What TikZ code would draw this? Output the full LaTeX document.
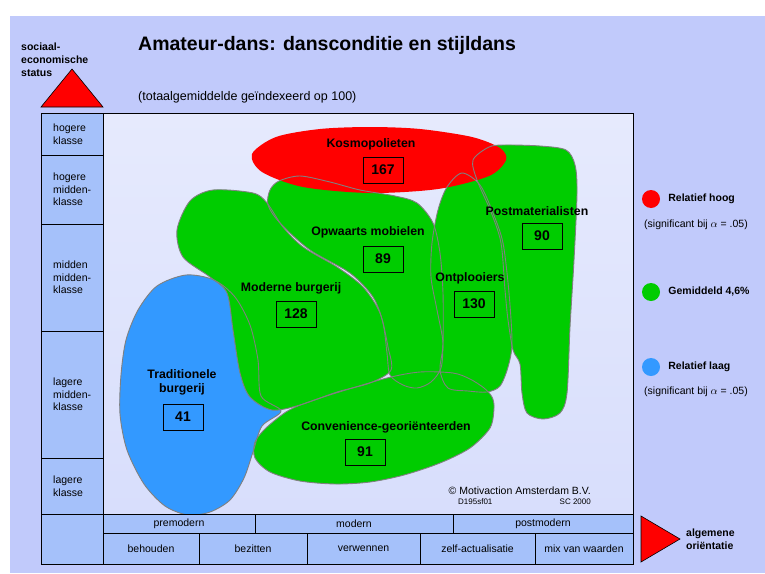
\documentclass[tikz,border=0pt]{standalone}
\usepackage{fontspec}
\setmainfont{Liberation Sans}
\usetikzlibrary{positioning}

\definecolor{pagebg}{RGB}{193,202,251}
\definecolor{cellblue}{RGB}{165,193,250}
\definecolor{charttop}{RGB}{230,234,253}
\definecolor{chartmid}{RGB}{176,191,249}
\definecolor{chartbot}{RGB}{216,222,252}
\definecolor{segred}{RGB}{255,0,0}
\definecolor{seggreen}{RGB}{0,204,0}
\definecolor{segblue}{RGB}{51,153,255}
\definecolor{rimgray}{RGB}{128,128,128}

% segment outlines (pixel grid, y downwards)
\def\pathTrad{plot[smooth cycle] coordinates {(186,275) (214,280) (235,297) (250,325) (258,360) (261,396) (281,411) (262,426) (253,452) (244,478) (230,500) (210,512) (188,515) (165,506) (144,484) (127,450) (120,414) (121,375) (126,340) (138,310) (157,286)}}
\def\pathModern{plot[smooth cycle] coordinates {(177,230) (190,201) (213,190) (253,193) (267,203) (283,227) (303,247) (337,267) (363,287) (380,313) (388,347) (391,370) (370,383) (337,392) (300,405) (272,410) (250,397) (240,373) (233,330) (227,293) (210,277) (183,257)}}
\def\pathUpward{plot[smooth cycle] coordinates {(279,181) (300,176) (330,182) (360,190) (395,196) (417,203) (433,223) (440,253) (443,293) (443,343) (441,368) (431,382) (417,388) (403,385) (390,375) (387,353) (383,323) (373,297) (350,273) (310,250) (280,223) (268,205) (270,190)}}
\def\pathUnfold{plot[smooth cycle] coordinates {(462,173) (480,185) (493,213) (503,243) (509,293) (512,343) (508,367) (500,386) (487,392) (468,391) (448,388) (440,370) (443,343) (437,310) (431,277) (432,243) (438,210) (447,187)}}
\def\pathPostmat{plot[smooth cycle] coordinates {(473,160) (489,147) (505,145) (540,146) (566,150) (575,165) (577,193) (574,260) (570,327) (567,393) (560,413) (543,419) (527,413) (522,393) (520,364) (513,350) (508,320) (505,290) (501,243) (491,212) (477,180)}}
\def\pathConven{plot[smooth cycle] coordinates {(286,412) (303,404) (336,393) (387,378) (420,372) (453,373) (470,379) (484,388) (492,397) (494,408) (490,428) (470,448) (440,463) (404,475) (370,482) (336,484) (300,481) (270,472) (255,458) (255,442) (266,428)}}
\def\pathCosmo{plot[smooth cycle] coordinates {(252,154) (276,137) (320,129) (370,127) (420,129) (472,137) (500,148) (506,160) (489,176) (438,189) (370,193) (303,187) (262,172)}}

\begin{document}
\begin{tikzpicture}[
  x=1pt,y=-1pt,
  font=\fontsize{10.5}{12.5}\selectfont,
  cell/.style={draw,fill=cellblue,line width=1pt},
  rowtext/.style={anchor=west,align=left,inner sep=0pt},
  axistext/.style={font=\fontsize{10.5}{13}\selectfont\bfseries,align=left,inner sep=0pt},
  seglabel/.style={font=\fontsize{12.3}{14}\selectfont\bfseries,align=center,inner sep=0pt},
  score/.style={draw,line width=1pt,minimum width=40pt,minimum height=26pt,inner sep=0pt,font=\fontsize{14}{16}\selectfont\bfseries},
  blob/.style={draw=rimgray,line width=0.9pt},
  dot/.style={circle,minimum size=18pt,inner sep=0pt},
  legtext/.style={anchor=west,inner sep=0pt,font=\fontsize{10.5}{12.5}\selectfont\bfseries},
  signote/.style={anchor=west,inner sep=0pt}
]
\useasboundingbox (0,0) rectangle (765,573);
\fill[white] (0,0) rectangle (765,573);
\fill[pagebg] (10,16) rectangle (765,573);

% chart field
\shade[top color=charttop,middle color=chartmid,bottom color=chartbot] (103,113) rectangle (633,514);

% segments: fills first, outlines on top
\fill[segblue] \pathTrad;
\fill[seggreen] \pathModern;
\fill[seggreen] \pathUpward;
\fill[seggreen] \pathUnfold;
\fill[seggreen] \pathPostmat;
\fill[seggreen] \pathConven;
\fill[segred] \pathCosmo;
\draw[blob] \pathTrad;
\draw[blob] \pathModern;
\draw[blob] \pathUpward;
\draw[blob] \pathUnfold;
\draw[blob] \pathPostmat;
\draw[blob] \pathConven;

\draw[line width=1pt] (103,113) -- (633,113) -- (633,514);

% segment names and index scores
\node[seglabel] (cosmo) at (371,144) {Kosmopolieten};
\node[score] (cosmoscore) at (383,170) {167};
\node[seglabel] (upward) at (368,232) {Opwaarts mobielen};
\node[score] (upwardscore) at (383,259) {89};
\node[seglabel] (modern) at (291,288) {Moderne burgerij};
\node[score] (modernscore) at (296,314) {128};
\node[seglabel] (unfold) at (470,278) {Ontplooiers};
\node[score] (unfoldscore) at (474,304) {130};
\node[seglabel] (postmat) at (537,211) {Postmaterialisten};
\node[score] (postmatscore) at (542,236) {90};
\node[seglabel] (trad) at (182,382) {Traditionele\\burgerij};
\node[score] (tradscore) at (183,417) {41};
\node[seglabel] (conven) at (386,427) {Convenience-georiënteerden};
\node[score] (convenscore) at (365,452) {91};

\node[anchor=base east,inner sep=0pt] (credit) at (591,494) {© Motivaction Amsterdam B.V.};
\node[anchor=west,inner sep=0pt,font=\fontsize{8}{9}\selectfont] (docid) at (458,502) {D195sf01};
\node[anchor=east,inner sep=0pt,font=\fontsize{8}{9}\selectfont] (docyear) at (591,502) {SC 2000};

% status axis
\foreach \ya/\yb/\txt in {113/155/{hogere\\klasse},155/224/{hogere\\midden-\\klasse},224/331/{midden\\midden-\\klasse},331/458/{lagere\\midden-\\klasse},458/514/{lagere\\klasse}} {
  \draw[cell] (41,\ya) rectangle (103,\yb);
  \node[rowtext] (class\ya) at (53,{(\ya+\yb)/2}) {\txt};
}
\draw[cell] (41,514) rectangle (103,564);

% orientation axis
\foreach \xa/\xb/\txt in {103/255/premodern,255/453/modern,453/633/postmodern} {
  \draw[cell] (\xa,514) rectangle (\xb,533);
  \node (era\xa) at ({(\xa+\xb)/2},523.5) {\txt};
}
\foreach \xa/\xb/\txt in {103/199/behouden,199/307/bezitten,307/420/verwennen,420/535/zelf-actualisatie,535/633/mix van waarden} {
  \draw[cell] (\xa,533) rectangle (\xb,564);
  \node (value\xa) at ({(\xa+\xb)/2},548.5) {\txt};
}

\draw[fill=segred,line width=0.6pt] (41,107) -- (72,69) -- (103,107) -- cycle;
\draw[fill=segred,line width=0.6pt] (641,516) -- (680,539) -- (641,562) -- cycle;
\node[axistext,anchor=west] (status) at (21,60) {sociaal-\\economische\\status};
\node[axistext,anchor=west] (orient) at (686,539) {algemene\\oriëntatie};

% titles
\node[anchor=base west,inner sep=0pt,font=\fontsize{19.5}{22}\selectfont\bfseries] (title) at (138,50) {Amateur-dans: dansconditie en stijldans};
\node[anchor=base west,inner sep=0pt,font=\fontsize{12.5}{14}\selectfont] (subtitle) at (138,100) {(totaalgemiddelde geïndexeerd op 100)};

% legend
\node[dot,fill=segred] (reddot) at (651,199) {};
\node[legtext,right=8pt of reddot] (redtext) {Relatief hoog};
\node[signote] (rednote) at (644,225) {(significant bij $\alpha$ = .05)};
\node[dot,fill=seggreen] (greendot) at (651,292) {};
\node[legtext,right=8pt of greendot] (greentext) {Gemiddeld 4,6\%};
\node[dot,fill=segblue] (bluedot) at (651,367) {};
\node[legtext,right=8pt of bluedot] (bluetext) {Relatief laag};
\node[signote] (bluenote) at (644,392) {(significant bij $\alpha$ = .05)};
\end{tikzpicture}
\end{document}
